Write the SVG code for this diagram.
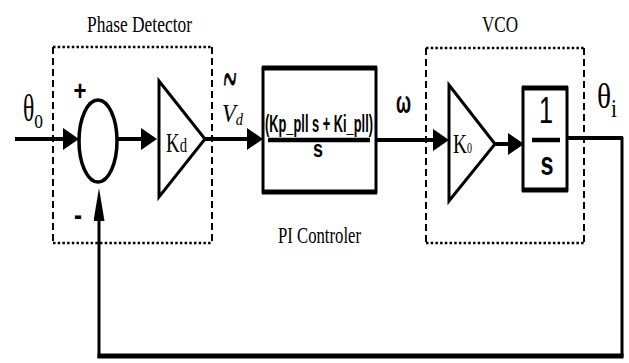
<svg xmlns="http://www.w3.org/2000/svg" width="629" height="363" viewBox="0 0 629 363">
<style>
.dot{fill:none;stroke:#000;stroke-width:2.5;stroke-dasharray:2.5 2.2}
.dash{fill:none;stroke:#000;stroke-width:2;stroke-dasharray:7 4}
.blk{fill:none;stroke:#000;stroke-width:3}
.thick{stroke:#000;stroke-width:5}
.wire{fill:none;stroke:#000;stroke-width:4}
.fb{fill:none;stroke:#000;stroke-width:3}
.serif{font-family:"Liberation Serif","Times New Roman",serif;fill:#000}
.sans{font-family:"Liberation Sans",Arial,sans-serif;font-weight:bold;fill:#000}
</style>
<defs>
<marker id="ah" markerUnits="userSpaceOnUse" markerWidth="17" markerHeight="23" refX="0" refY="11" orient="auto">
<path d="M0,0 L16,11 L0,22 z" fill="#000"/>
</marker>
<marker id="ahf" markerUnits="userSpaceOnUse" markerWidth="34" markerHeight="12" refX="0" refY="5.5" orient="auto">
<path d="M0,0 L33,5.5 L0,11 z" fill="#000"/>
</marker>
</defs>
<rect width="629" height="363" fill="#fff"/>

<g id="phase-detector">
<line class="dot" x1="53" y1="47" x2="212" y2="47"/>
<line class="dot" x1="53" y1="243" x2="212" y2="243"/>
<line class="dash" x1="53" y1="47" x2="53" y2="243"/>
<line class="dash" x1="212" y1="47" x2="212" y2="243"/>
<text class="serif" x="87" y="32" font-size="23" textLength="105" lengthAdjust="spacingAndGlyphs">Phase Detector</text>
</g>

<g id="summing-junction">
<ellipse cx="98" cy="141" rx="19" ry="41" fill="none" stroke="#000" stroke-width="3.5"/>
<text class="sans" x="80" y="100" font-size="28" text-anchor="middle" textLength="13" lengthAdjust="spacingAndGlyphs">+</text>
<text class="sans" x="78" y="225" font-size="30" text-anchor="middle" textLength="8" lengthAdjust="spacingAndGlyphs">-</text>
</g>

<g id="kd-gain">
<polygon points="159,81 205,139 159,197" class="blk"/>
<text class="serif" x="166" y="152" textLength="21" lengthAdjust="spacingAndGlyphs"><tspan font-size="27">K</tspan><tspan font-size="21">d</tspan></text>
</g>

<g id="pi-controller">
<rect x="263" y="68" width="113" height="124" class="blk"/>
<line class="thick" x1="262" y1="68" x2="377" y2="68"/>
<line class="thick" x1="262" y1="192" x2="377" y2="192"/>
<text class="sans" x="265" y="132" font-size="23" textLength="108" lengthAdjust="spacingAndGlyphs">(Kp_pll s + Ki_pll)</text>
<line x1="268" y1="140" x2="370" y2="140" stroke="#000" stroke-width="4.5"/>
<text class="sans" x="318" y="157" font-size="23" text-anchor="middle" textLength="10" lengthAdjust="spacingAndGlyphs">s</text>
<text class="serif" x="278" y="243" font-size="24" textLength="83" lengthAdjust="spacingAndGlyphs">PI Controler</text>
</g>

<g id="vco">
<line class="dot" x1="426" y1="48" x2="584" y2="48"/>
<line class="dot" x1="426" y1="243" x2="584" y2="243"/>
<line class="dash" x1="426" y1="48" x2="426" y2="243"/>
<line class="dash" x1="584" y1="48" x2="584" y2="243"/>
<text class="serif" x="482" y="32" font-size="24" textLength="36" lengthAdjust="spacingAndGlyphs">VCO</text>
</g>

<g id="k0-gain">
<polygon points="449,85 495,144 449,201" class="blk"/>
<text class="serif" x="453" y="153" textLength="19" lengthAdjust="spacingAndGlyphs"><tspan font-size="27">K</tspan><tspan font-size="14">0</tspan></text>
</g>

<g id="integrator">
<rect x="523" y="88" width="44" height="102" class="blk"/>
<line class="thick" x1="522" y1="88" x2="568" y2="88"/>
<line class="thick" x1="522" y1="190" x2="568" y2="190"/>
<text class="sans" x="546" y="123" font-size="36" text-anchor="middle" textLength="14" lengthAdjust="spacingAndGlyphs" style="font-weight:normal">1</text>
<line x1="532" y1="140" x2="560" y2="140" stroke="#000" stroke-width="4.5"/>
<text class="sans" x="547" y="175" font-size="34" text-anchor="middle" textLength="13" lengthAdjust="spacingAndGlyphs">s</text>
</g>

<g id="signal-labels">
<text class="serif" x="23" y="121" textLength="20" lengthAdjust="spacingAndGlyphs"><tspan font-size="38">θ</tspan><tspan font-size="28" dy="7">o</tspan></text>
<g transform="translate(230,84) scale(1,2)"><text class="serif" x="0" y="9" font-size="34" text-anchor="middle" textLength="13" lengthAdjust="spacingAndGlyphs" stroke="#000" stroke-width="0.6">~</text></g>
<text class="serif" x="222" y="122" font-style="italic" textLength="21" lengthAdjust="spacingAndGlyphs"><tspan font-size="25">V</tspan><tspan font-size="16" dy="3">d</tspan></text>
<text class="sans" x="396" y="113" font-size="32" textLength="15" lengthAdjust="spacingAndGlyphs">ω</text>
<text class="serif" x="597" y="108" textLength="20" lengthAdjust="spacingAndGlyphs"><tspan font-size="36">θ</tspan><tspan font-size="26" dy="9">i</tspan></text>
</g>

<g id="connectors">
<line class="wire" x1="15" y1="139" x2="63" y2="139" marker-end="url(#ah)"/>
<line class="wire" x1="117" y1="139" x2="141" y2="139" marker-end="url(#ah)"/>
<line class="wire" x1="205" y1="139" x2="247" y2="139" marker-end="url(#ah)"/>
<line class="wire" x1="376" y1="140" x2="433" y2="140" marker-end="url(#ah)"/>
<line class="wire" x1="495" y1="144" x2="508" y2="144" marker-end="url(#ah)"/>
<line class="wire" x1="567" y1="138" x2="623" y2="138"/>
<line class="fb" x1="622" y1="137" x2="622" y2="357"/>
<line x1="97.5" y1="356" x2="623.5" y2="356" stroke="#000" stroke-width="5"/>
<line class="fb" x1="99" y1="358" x2="99" y2="221" marker-end="url(#ahf)"/>
</g>
</svg>
